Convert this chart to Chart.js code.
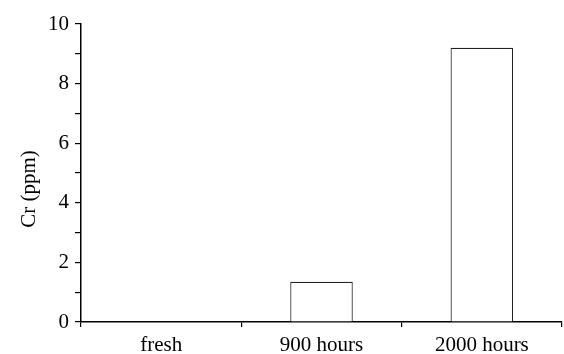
<!DOCTYPE html>
<html>
<head>
<meta charset="utf-8">
<script src="https://cdn.jsdelivr.net/npm/chart.js@4/dist/chart.umd.min.js"></script>
<style>
    html, body { margin: 0; padding: 0; background: #ffffff; }
    #wrap { width: 564px; height: 354px; }
</style>
</head>
<body>
<div id="wrap"><canvas id="barChart"></canvas></div>
<script>
// Data
const categories = ["fresh", "900 hours", "2000 hours"];
const crValues = [0, 1.35, 9.2];
const yTickLabels = [0, 2, 4, 6, 8, 10];
const yTitle = "Cr (ppm)";

const serif = "'Liberation Serif', 'Times New Roman', serif";

// y title sits a bit below the middle of the plot in the original, so draw it ourselves
const yTitlePlugin = {
    id: "yTitle",
    afterDraw(chart) {
        const c = chart.ctx;
        const area = chart.chartArea;
        c.save();
        c.translate(area.left - 52, (area.top + area.bottom) / 2 + 16);
        c.rotate(-Math.PI / 2);
        c.font = "21px " + serif;
        c.fillStyle = "#000000";
        c.textAlign = "center";
        c.textBaseline = "middle";
        c.fillText(yTitle, 0, 0);
        c.restore();
    }
};

const ctx = document.getElementById("barChart").getContext("2d");
const barChart = new Chart(ctx, {
    type: "bar",
    data: {
        labels: categories,
        datasets: [{
            label: yTitle,
            data: crValues,
            backgroundColor: "#ffffff",
            borderColor: "#222222",
            borderWidth: 1.2,
            categoryPercentage: 1,
            barPercentage: 0.39
        }]
    },
    options: {
        responsive: true,
        maintainAspectRatio: false,
        animation: false,
        layout: { padding: { top: 24, right: 2, left: 0, bottom: 0 } },
        plugins: {
            legend: { display: false },
            tooltip: { enabled: false }
        },
        scales: {
            x: {
                offset: true,
                grid: {
                    offset: true,
                    drawOnChartArea: false,
                    drawTicks: true,
                    tickLength: 5,
                    color: "#000000",
                    lineWidth: 1.2
                },
                border: { color: "#000000", width: 1.5 },
                ticks: {
                    color: "#000000",
                    font: { family: serif, size: 21 },
                    padding: 6,
                    maxRotation: 0
                },
                afterFit: scale => { scale.height = 32; }
            },
            y: {
                min: 0,
                max: 10,
                grid: {
                    drawOnChartArea: false,
                    drawTicks: true,
                    tickLength: 6,
                    color: "#000000",
                    lineWidth: 1.2
                },
                border: { color: "#000000", width: 1.5 },
                ticks: {
                    stepSize: 1,
                    color: "#000000",
                    font: { family: serif, size: 21 },
                    padding: 6,
                    callback: v => yTickLabels.includes(v) ? v : ""
                },
                afterFit: scale => { scale.width = 81; }
            }
        }
    },
    plugins: [yTitlePlugin]
});
</script>
</body>
</html>
